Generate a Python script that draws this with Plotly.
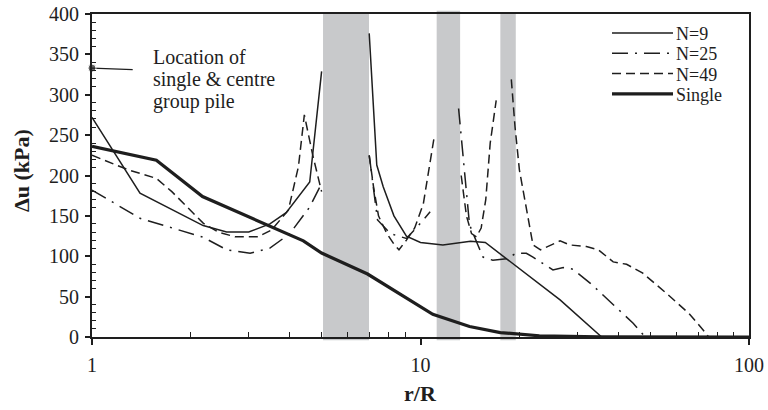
import plotly.graph_objects as go

# ---- data ----
N9_X = [1, 1.4, 2.18, 2.57, 3.0, 3.48, 3.9, 4.6, 5.0, None,
        6.98, 7.36, 7.7, 8.3, 9.06, 10.0, 11.7, 14.2, 15.75, 26.6, 35.6, 100]
N9_Y = [272, 178, 138, 130, 130, 140, 154, 192, 329, None,
        376, 213, 186, 150, 125, 117, 114, 118.5, 117, 46, 0, 0]

N25_X = [1, 1.4, 2.18, 2.57, 3.03, 3.48, 4.0, 4.6, 5.0, None,
         6.98, 7.4, 8.1, 9.06, 10.0, 10.7, None,
         13.06, 13.6, 14.1, 14.95, 15.5, 16.6, 18.3, 19.6, 21.0, 22.0,
         25.3, 27.2, 29.1, 32.9, 37.9, 44.4, 48.3, 100]
N25_Y = [182, 147, 123.5, 108, 103.6, 110, 128, 161, 190, None,
         225, 145, 128, 122, 141, 155, None,
         283, 207, 139, 114, 99, 95, 97, 104, 103.6, 99,
         83, 86, 84, 66.5, 43.7, 17, 0, 0]

N49_X = [1, 1.29, 1.57, 1.75, 2.18, 2.42, 2.73, 3.2, 3.52, 3.96, 4.25, 4.43, 4.7, 5.0, None,
         6.98, 7.2, 7.45, 7.9, 8.3, 8.6, 9.06, 9.6, 10.2, 10.6, 11.0, None,
         13.3, 13.8, 14.3, 14.8, 15.3, 15.8, 16.3, 17.0, None,
         18.9, 19.4, 20.0, 21.0, 22.0, 23.2, 26.6, 28.5, 32.0, 34.8, 38.6, 42.4,
         47.5, 56.1, 65.7, 72.5, 75.4, 100]
N49_Y = [225, 207, 196.5, 180, 141, 130, 124, 124, 132.5, 157, 211, 275, 225, 180, None,
         225, 185, 150, 128, 115, 108, 120, 135, 165, 207, 247, None,
         200, 150, 128, 124, 135, 170, 240, 293, None,
         319, 260, 207, 157, 114, 108, 119, 114, 112, 108, 93, 90,
         79, 54, 29, 8.7, 0, 0]

SINGLE_X = [1, 1.57, 2.17, 4.4, 5.0, 6.9, 10.9, 14.1, 17.5, 23, 35, 100]
SINGLE_Y = [236, 219, 174, 119, 104, 78, 28, 13, 5.5, 1.5, 0.3, 0]

# grey pile-location bands (r/R ranges)
BAND_X0 = [5.05, 11.2, 17.5]
BAND_X1 = [6.97, 13.2, 19.5]

# leader of the annotation
LEADER_X = [1, 1.33]
LEADER_Y = [333, 331]

SERIES_NAMES = ["N=9", "N=25", "N=49", "Single"]
Y_TICKS = [0, 50, 100, 150, 200, 250, 300, 350, 400]
Y_MINOR = [v for v in range(10, 400, 10) if v % 50 != 0]
X_TICKS = [1, 10, 100]
X_MINOR = [2, 3, 4, 5, 6, 7, 8, 9, 20, 30, 40, 50, 60, 70, 80, 90]
NOTE_LINES = ["Location of", "single &amp; centre", "group pile"]

FONT = "Liberation Serif, Times New Roman, serif"
INK = "#1e1e1e"
FS = 20

# plot-area geometry in pixels
L, R, T, B = 92, 749, 14, 337
W, H = R - L, B - T


def px(x):
    return (x - L) / W


def py(y):
    return (B - y) / H


STYLES = [
    dict(color=INK, width=1.5),
    dict(color=INK, width=1.5, dash="16px,7px,2px,7px"),
    dict(color=INK, width=1.5, dash="9px,5px"),
    dict(color=INK, width=3.2),
]

fig = go.Figure()
for name, xs, ys, st in zip(SERIES_NAMES, [N9_X, N25_X, N49_X, SINGLE_X],
                            [N9_Y, N25_Y, N49_Y, SINGLE_Y], STYLES):
    fig.add_trace(go.Scatter(x=xs, y=ys, name=name, mode="lines", line=st,
                             showlegend=False))

fig.add_trace(go.Scatter(x=LEADER_X, y=LEADER_Y, mode="lines+markers", showlegend=False,
                         line=dict(color=INK, width=1.3),
                         marker=dict(size=[8, 0], color=INK),
                         cliponaxis=False, hoverinfo="skip"))

for x0, x1 in zip(BAND_X0, BAND_X1):
    fig.add_shape(type="rect", xref="x", yref="paper", x0=x0, x1=x1,
                  y0=-0.01, y1=1.0 if x0 != BAND_X0[1] else 1.01,
                  fillcolor="#c8c9cb", line=dict(width=0), layer="below")

# legend (key lines + labels in the upper right)
for i, (name, st) in enumerate(zip(SERIES_NAMES, STYLES)):
    yy = 33 + i * 20.3
    fig.add_shape(type="line", xref="paper", yref="paper",
                  x0=px(612), x1=px(673), y0=py(yy), y1=py(yy), line=st)
    fig.add_annotation(xref="paper", yref="paper", x=px(674), y=py(yy + 1),
                       xanchor="left", yanchor="middle", showarrow=False,
                       text=name, font=dict(family=FONT, size=18, color=INK))

for i, line in enumerate(NOTE_LINES):
    fig.add_annotation(xref="paper", yref="paper", x=px(151), y=py(57 + i * 22),
                       xanchor="left", yanchor="middle", showarrow=False,
                       text=line, font=dict(family=FONT, size=FS, color=INK))

# axis titles
fig.add_annotation(xref="paper", yref="paper", x=px(420), y=py(393),
                   xanchor="center", yanchor="middle", showarrow=False,
                   text="<b>r/R</b>", font=dict(family=FONT, size=22, color=INK))
fig.add_annotation(xref="paper", yref="paper", x=px(22), y=py(171),
                   xanchor="center", yanchor="middle", showarrow=False, textangle=-90,
                   text="<b>Δu (kPa)</b>", font=dict(family=FONT, size=22, color=INK))

fig.update_layout(
    width=768, height=410,
    margin=dict(l=L, r=768 - R, t=T, b=410 - B, autoexpand=False),
    paper_bgcolor="white", plot_bgcolor="white",
    font=dict(family=FONT, color=INK, size=FS),
    showlegend=False,
)

fig.update_xaxes(type="log", range=[0, 2], tickvals=X_TICKS, ticktext=[str(v) for v in X_TICKS],
                 ticks="outside", ticklen=6, tickwidth=1.5, tickcolor=INK,
                 tickfont=dict(family=FONT, size=FS, color=INK),
                 minor=dict(ticks="inside", tickvals=X_MINOR, ticklen=5, tickwidth=1, tickcolor=INK),
                 showline=True, linewidth=2, linecolor=INK, mirror=True,
                 showgrid=False, zeroline=False, ticklabelstandoff=3, automargin=False)
fig.update_yaxes(range=[0, 400], tickvals=Y_TICKS,
                 ticks="outside", ticklen=5, tickwidth=1.5, tickcolor=INK,
                 tickfont=dict(family=FONT, size=FS, color=INK),
                 minor=dict(ticks="inside", tickvals=Y_MINOR, ticklen=4, tickwidth=1, tickcolor=INK),
                 showline=True, linewidth=2, linecolor=INK, mirror=True,
                 showgrid=False, zeroline=False, ticklabelstandoff=2, automargin=False)

fig.write_html("out.html", config={"displayModeBar": False},
               post_script="document.body.style.margin='0';document.body.style.padding='0';")
